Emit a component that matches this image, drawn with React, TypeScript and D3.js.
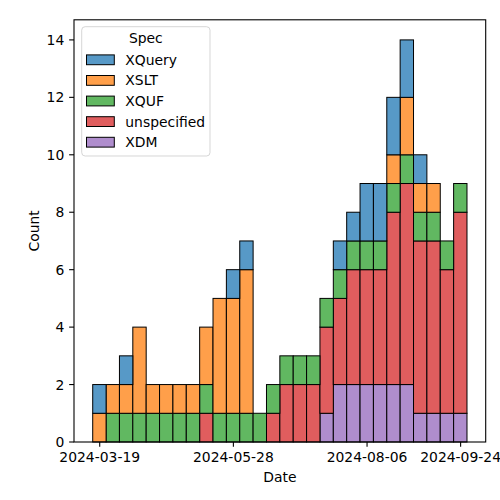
import React from "react";
import * as d3 from "d3";

// ---- data (weekly bins, stacked bottom → top: XDM, unspecified, XQUF, XSLT, XQuery)
const binStart = "2024-03-15T08:00:00";
const binDays = 7;
const specs = ["XQuery", "XSLT", "XQUF", "unspecified", "XDM"];
const xquery = [1,0,1,0,0,0,0,0,0,0,1,1,0,0,0,0,0,0,1,1,2,2,2,2,1,0,0,0];
const xslt = [1,1,1,3,1,1,1,1,2,4,4,5,0,0,0,0,0,0,0,0,0,0,1,2,1,1,0,0];
const xquf = [0,1,1,1,1,1,1,1,1,1,1,1,1,1,1,1,1,1,1,1,1,1,1,1,1,1,1,1];
const unspecified = [0,0,0,0,0,0,0,0,1,0,0,0,0,1,2,2,2,3,3,4,4,4,6,7,6,6,5,7];
const xdm = [0,0,0,0,0,0,0,0,0,0,0,0,0,0,0,0,0,1,2,2,2,2,2,2,1,1,1,1];
const xTickLabels = ["2024-03-19", "2024-05-28", "2024-08-06", "2024-09-24"];
const yTicks = [0, 2, 4, 6, 8, 10, 12, 14];
const colors: Record<string, string> = {
  XQuery: "#5799c7",
  XSLT: "#ff9f4a",
  XQUF: "#61b861",
  unspecified: "#e05d5e",
  XDM: "#af8dcd",
};
const seriesValues: Record<string, number[]> = {
  XQuery: xquery,
  XSLT: xslt,
  XQUF: xquf,
  unspecified: unspecified,
  XDM: xdm,
};

const W = 500, H = 500;
const L = 74, R = 485.7, T = 19.8, B = 442;
const FS = 13.9;
const FONT = "DejaVu Sans, sans-serif";

export default function App() {
  const parse = d3.timeParse("%Y-%m-%dT%H:%M:%S");
  const start = parse(binStart)!;
  const nBins = xquery.length;
  const edges = d3.range(nBins + 1).map((i) => d3.timeDay.offset(start, i * binDays));
  const t0 = +edges[0], t1 = +edges[nBins];
  const pad = (t1 - t0) * 0.05;
  const x = d3.scaleTime().domain([new Date(t0 - pad), new Date(t1 + pad)]).range([L, R]);
  const maxTotal = d3.max(d3.range(nBins), (i) => specs.reduce((s, k) => s + seriesValues[k][i], 0))!;
  const y = d3.scaleLinear().domain([0, maxTotal * 1.05]).range([B, T]);

  const stackOrder = [...specs].reverse(); // bottom first
  const table = d3.range(nBins).map((i) => {
    const row: any = { i };
    specs.forEach((k) => (row[k] = seriesValues[k][i]));
    return row;
  });
  const stacked = d3.stack<any>().keys(stackOrder)(table);

  const parseDay = d3.timeParse("%Y-%m-%d");

  return (
    <svg width={W} height={H} style={{ position: "absolute", left: 0, top: 0, background: "#fff" }} fontFamily={FONT}>
      <rect x={0} y={0} width={W} height={H} fill="#fff" />
      {stacked.map((layer) => (
        <g key={layer.key}>
          {layer.map((d, i) =>
            d[1] - d[0] > 0 ? (
              <rect
                key={i}
                x={x(edges[i])}
                width={x(edges[i + 1]) - x(edges[i])}
                y={y(d[1])}
                height={y(d[0]) - y(d[1])}
                fill={colors[layer.key]}
                stroke="#000"
                strokeWidth={1}
              />
            ) : null
          )}
        </g>
      ))}
      {/* spines */}
      <rect x={L} y={T} width={R - L} height={B - T} fill="none" stroke="#000" strokeWidth={1.1} />
      {/* y ticks */}
      {yTicks.map((t) => (
        <g key={t}>
          <line x1={L - 4.86} x2={L} y1={y(t)} y2={y(t)} stroke="#000" strokeWidth={1.1} />
          <text x={L - 9.7} y={y(t)} dy="0.36em" textAnchor="end" fontSize={FS} fill="#000">
            {t}
          </text>
        </g>
      ))}
      {/* x ticks */}
      {xTickLabels.map((s) => {
        const px = x(parseDay(s)!);
        return (
          <g key={s}>
            <line x1={px} x2={px} y1={B} y2={B + 4.86} stroke="#000" strokeWidth={1.1} />
            <text x={px} y={B + 9.7} dy="0.76em" textAnchor="middle" fontSize={FS} fill="#000">
              {s}
            </text>
          </g>
        );
      })}
      <text x={(L + R) / 2} y={482} textAnchor="middle" fontSize={FS} fill="#000">
        Date
      </text>
      <text
        transform={`translate(38.5, ${(T + B) / 2}) rotate(-90)`}
        textAnchor="middle"
        fontSize={FS}
        fill="#000"
      >
        Count
      </text>
      {/* legend */}
      <g>
        <rect x={81.7} y={26.7} width={128.3} height={129.3} rx={3.5} fill="#fff" fillOpacity={0.8} stroke="#cccccc" strokeOpacity={0.8} strokeWidth={1} />
        <text x={145.8} y={42.5} textAnchor="middle" fontSize={FS} fill="#000">
          Spec
        </text>
        {specs.map((k, i) => {
          const cy = 59.8 + i * 20.6;
          return (
            <g key={k}>
              <rect x={86.5} y={cy - 4.9} width={27.8} height={9.8} fill={colors[k]} stroke="#000" strokeWidth={1} />
              <text x={125.3} y={cy} dy="0.36em" fontSize={FS} fill="#000">
                {k}
              </text>
            </g>
          );
        })}
      </g>
    </svg>
  );
}
